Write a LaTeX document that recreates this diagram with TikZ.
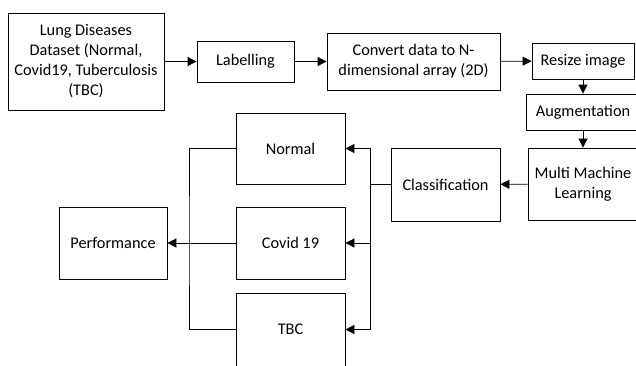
\documentclass[tikz,border=0pt]{standalone}
\usepackage{fontspec}
\setmainfont{Carlito}
\usetikzlibrary{arrows.meta,calc,positioning}

\tikzset{
  stepbox/.style={draw=black, line width=0.8pt, align=center, inner sep=2pt,
    font=\fontsize{16.3}{20}\selectfont},
  flow/.style={line width=0.8pt, -{Triangle[length=9pt,width=9pt]}},
  link/.style={line width=0.8pt}
}

\begin{document}
\begin{tikzpicture}[x=1pt,y=-1pt]
  \useasboundingbox (0,0) rectangle (636,365);
  \clip (0,0) rectangle (636,365);
  % top row
  \node[stepbox, minimum width=156pt, minimum height=97pt] (data) at (86,61.5)
    {Lung Diseases\\Dataset (Normal,\\Covid19, Tuberculosis\\(TBC)};
  \node[stepbox, minimum width=97pt, minimum height=41pt] (label) at (245.5,61.5) {Labelling};
  \node[stepbox, minimum width=173pt, minimum height=57pt] (convert) at (413.5,61.5)
    {Convert data to N-\\dimensional array (2D)};
  \node[stepbox, minimum width=102pt, minimum height=36pt] (resize) at (583,61) {Resize image};
  % right column
  \node[stepbox, minimum width=114pt, minimum height=36pt] (augment) at (583,112) {Augmentation};
  \node[stepbox, minimum width=110pt, minimum height=72pt] (mml) at (583,184)
    {Multi Machine\\Learning};
  \node[stepbox, minimum width=109pt, minimum height=73pt] (classify) at (445.5,184.5) {Classification};
  % classes
  \node[stepbox, minimum width=109pt, minimum height=71pt] (normal) at (290.5,148.5) {Normal};
  \node[stepbox, minimum width=109pt, minimum height=72pt] (covid) at (290.5,243) {Covid 19};
  \node[stepbox, minimum width=109pt, minimum height=73pt] (tbc) at (290.5,329.5) {TBC};
  \node[stepbox, minimum width=108pt, minimum height=72pt] (perf) at (113,243) {Performance};

  \coordinate (split) at (370,184.5);
  \coordinate (join) at (189,243);

  \draw[flow] (data) -- (label);
  \draw[flow] (label) -- (convert);
  \draw[flow] (convert) -- (resize);
  \draw[flow] (resize) -- (augment);
  \draw[flow] (augment) -- (mml);
  \draw[flow] (mml) -- (classify);
  \draw[link] (classify.west) -- (split);
  \draw[flow] (split) |- (normal.east);
  \draw[flow] (split) |- (covid.east);
  \draw[flow] (split) |- (tbc.east);
  \draw[link] (normal.west) -| (join) |- (tbc.west);
  \draw[flow] (covid.west) -- (perf.east);
\end{tikzpicture}
\end{document}
